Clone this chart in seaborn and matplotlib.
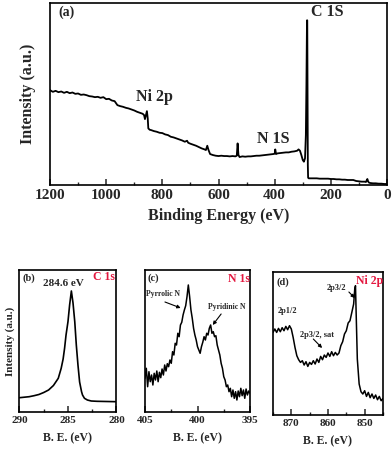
import numpy as np
import pandas as pd
import seaborn as sns
import matplotlib.pyplot as plt
from matplotlib.ticker import MultipleLocator

# (a) survey spectrum: binding energy (eV) and intensity (a.u.)
survey_be = [1200, 1190, 1180, 1170, 1160, 1150, 1140, 1130, 1120, 1110,
             1100, 1090, 1080, 1070, 1060, 1050, 1040, 1030, 1020, 1010,
             1000, 990, 980, 970, 960, 950, 940, 930, 920, 910,
             900, 890, 880, 870, 865, 862, 858, 855, 852, 850,
             845, 840, 830, 820, 810, 800, 790, 780, 770, 760,
             750, 740, 730, 720, 712, 708, 700, 690, 680, 670,
             660, 650, 645, 640, 636, 630, 620, 610, 600, 590,
             580, 570, 560, 550, 540, 535, 532, 529, 525, 515,
             505, 495, 485, 475, 465, 455, 445, 435, 425, 415,
             405, 400, 398, 395, 390, 380, 370, 360, 350, 340,
             330, 320, 315, 310, 305, 300, 296, 292, 289, 287,
             286, 285, 284, 283, 282, 281, 279, 270, 260, 250,
             240, 230, 220, 210, 200, 190, 180, 170, 160, 150,
             140, 130, 120, 110, 100, 90, 80, 75, 72, 70,
             67, 64, 60, 50, 40, 30, 20, 10, 0]
survey_int = [285, 280, 283, 279, 281, 277, 280, 276, 278, 274,
              275, 271, 272, 270, 267, 266, 264, 265, 262, 264,
              258, 259, 254, 252, 240, 237, 235, 232, 230, 227,
              224, 220, 217, 214, 210, 198, 212, 222, 200, 170,
              166, 165, 162, 160, 157, 156, 152, 150, 145, 143,
              140, 137, 134, 130, 133, 127, 124, 121, 118, 114,
              110, 107, 105, 118, 106, 93, 90, 88, 87, 88,
              87, 87, 86, 87, 86, 88, 125, 90, 84, 86,
              85, 86, 86, 87, 88, 88, 89, 90, 91, 92,
              93, 94, 107, 93, 95, 96, 97, 98, 98, 100,
              101, 103, 107, 103, 90, 75, 70, 80, 150, 300,
              420, 495, 495, 300, 60, 22, 20, 20, 20, 20,
              19, 19, 19, 19, 18, 18, 17, 17, 16, 16,
              15, 15, 15, 12, 11, 10, 10, 9, 15, 18,
              10, 7, 6, 5, 5, 4, 4, 3, 3]

# (b) C 1s
c1s_be = [290, 289.5, 289, 288.5, 288, 287.5, 287, 286.5, 286, 285.7,
          285.5, 285.35, 285.2, 285.0, 284.83, 284.65, 284.48, 284.3, 284.14, 283.97,
          283.8, 283.6, 283.5, 283.3, 283.0, 282.6, 282, 281, 280]
c1s_int = [14.3, 14.8, 15.3, 16.3, 17.5, 19.5, 22, 26.5, 33.7, 43.7,
           53, 63.7, 77, 90.3, 107, 121, 109, 90.3, 67, 47,
           30, 20.3, 17, 13.7, 12, 11, 10.7, 10.5, 10.3]

# (c) N 1s
n1s_be = [405.0, 404.875, 404.75, 404.625, 404.5, 404.375, 404.25, 404.125, 404.0,
          403.875, 403.75, 403.625, 403.5, 403.375, 403.25, 403.125, 403.0,
          402.875, 402.75, 402.625, 402.5, 402.375, 402.25, 402.125, 402.0,
          401.875, 401.75, 401.625, 401.5, 401.375, 401.25, 401.125, 401.0,
          400.875, 400.75, 400.625, 400.5, 400.375, 400.25, 400.125, 400.0,
          399.875, 399.75, 399.625, 399.5, 399.375, 399.25, 399.125, 399.0,
          398.875, 398.75, 398.625, 398.5, 398.375, 398.25, 398.125, 398.0,
          397.875, 397.75, 397.625, 397.5, 397.375, 397.25, 397.125, 397.0,
          396.875, 396.75, 396.625, 396.5, 396.375, 396.25, 396.125, 396.0,
          395.875, 395.75, 395.625, 395.5, 395.375, 395.25, 395.125, 395.0]
n1s_int = [33.7, 43.7, 25.3, 40.3, 30.3, 37, 27, 38.7, 32,
           41, 30.3, 39.7, 34.3, 43, 37, 47, 41,
           48.3, 45.3, 52, 48.7, 60.3, 57, 68.7, 67,
           78.7, 75.3, 87, 89.7, 97, 102, 106.3, 115.3,
           127, 115.3, 102, 93.7, 83.7, 77, 72, 65.3,
           62, 58.7, 65.3, 69.7, 75.3, 72, 78.7, 77,
           83.7, 87, 78.7, 80.3, 75.3, 76.3, 67, 62,
           57, 48.7, 43.7, 35.3, 32, 25.3, 27, 20.3,
           23.7, 15.3, 22, 13.7, 20.3, 12, 21, 15.3,
           23.7, 16.3, 22, 13.7, 23, 17, 21, 18.7]

# (d) Ni 2p
ni2p_be = [875.0, 874.5, 874.0, 873.5, 873.0, 872.5, 872.0, 871.5, 871.0, 870.5,
           870.0, 869.5, 869.0, 868.5, 868.0, 867.5, 867.0, 866.5, 866.0, 865.5,
           865.0, 864.5, 864.0, 863.5, 863.0, 862.5, 862.0, 861.5, 861.0, 860.5,
           860.0, 859.5, 859.0, 858.5, 858.0, 857.5, 857.0, 856.5, 856.0, 855.5,
           855.0, 854.5, 854.0, 853.5, 853.0, 852.7, 852.5, 852.3, 852.0, 851.5,
           851.0, 850.5, 850.0, 849.5, 849.0, 848.5, 848.0, 847.5, 847.0, 846.5,
           846.0, 845.5, 845.0]
ni2p_int = [82.6, 86, 82.6, 86.6, 83.3, 87.3, 84.3, 88.6, 85.3, 89.3,
            86, 77.6, 67.6, 59.3, 55.3, 52.6, 54.3, 50, 53.3, 48.6,
            52.6, 50.6, 54.3, 51, 56, 52.6, 58.6, 55.3, 60, 57.6,
            62, 58.6, 63.3, 59.3, 62.6, 60, 62, 69.3, 73.3, 81,
            84.3, 92, 94.3, 102.6, 111, 126, 129.3, 99.3, 56, 31,
            23.3, 21, 24.3, 18.6, 22.6, 17.3, 21, 16.6, 20, 15.3,
            18.6, 14.3, 16.6]

RED = '#e3173f'

sns.set_theme(style="ticks")
plt.rcParams['font.family'] = ['Liberation Serif', 'DejaVu Serif']
plt.rcParams['font.weight'] = 'bold'
plt.rcParams['axes.labelweight'] = 'bold'
plt.rcParams['axes.linewidth'] = 1.2
plt.rcParams['xtick.direction'] = 'in'
plt.rcParams['ytick.direction'] = 'in'

fig = plt.figure(figsize=(3.92, 4.49), dpi=100)
fig.patch.set_facecolor('white')

ARROW = dict(arrowstyle='-|>', color='black', lw=0.8, mutation_scale=5,
             shrinkA=0, shrinkB=0)


def style_axis(ax, major, minor, size):
    ax.xaxis.set_major_locator(MultipleLocator(major))
    ax.xaxis.set_minor_locator(MultipleLocator(minor))
    ax.tick_params(axis='x', which='major', length=4, width=1.1, labelsize=size, pad=3)
    ax.tick_params(axis='x', which='minor', length=2.5, width=1.0)
    ax.set_yticks([])
    ax.set_ylabel('')
    for s in ax.spines.values():
        s.set_visible(True)
        s.set_linewidth(1.2)
        s.set_color('black')


# panel (a)
ax_a = fig.add_axes([0.1276, 0.588, 0.8597, 0.4053])
df_a = pd.DataFrame({'BE': survey_be, 'I': survey_int})
sns.lineplot(data=df_a, x='BE', y='I', ax=ax_a, color='black', linewidth=1.3, sort=False)
ax_a.set_xlim(1200, 0)
ax_a.set_ylim(0, 547)
style_axis(ax_a, 200, 100, 11)
ax_a.set_xlabel('Binding Energy (eV)', fontsize=11.5, labelpad=4)
ax_a.set_ylabel('Intensity (a.u.)', fontsize=11.5, labelpad=10)
ax_a.text(0.025, 0.95, '(a)', transform=ax_a.transAxes, fontsize=10, va='center')
ax_a.text(0.775, 0.95, 'C 1S', transform=ax_a.transAxes, fontsize=11.5, va='center')
ax_a.text(0.255, 0.485, 'Ni 2p', transform=ax_a.transAxes, fontsize=11.5, va='center')
ax_a.text(0.615, 0.255, 'N 1S', transform=ax_a.transAxes, fontsize=11.5, va='center')

# panel (b)
ax_b = fig.add_axes([0.0497, 0.0824, 0.2474, 0.3163])
df_b = pd.DataFrame({'BE': c1s_be, 'I': c1s_int})
sns.lineplot(data=df_b, x='BE', y='I', ax=ax_b, color='black', linewidth=1.2, sort=False)
ax_b.set_xlim(290, 280)
ax_b.set_ylim(0, 142)
style_axis(ax_b, 5, 2.5, 8)
ax_b.set_xlabel('B. E. (eV)', fontsize=8.5, labelpad=5)
ax_b.set_ylabel('Intensity (a.u.)', fontsize=8, labelpad=3)
ax_b.text(0.03, 0.94, '(b)', transform=ax_b.transAxes, fontsize=7.5, va='center')
ax_b.text(0.24, 0.905, '284.6 eV', transform=ax_b.transAxes, fontsize=8, va='center')
ax_b.text(0.76, 0.95, 'C 1s', transform=ax_b.transAxes, fontsize=8.5, va='center', color=RED)

# panel (c)
ax_c = fig.add_axes([0.3699, 0.0824, 0.2679, 0.3163])
df_c = pd.DataFrame({'BE': n1s_be, 'I': n1s_int})
sns.lineplot(data=df_c, x='BE', y='I', ax=ax_c, color='black', linewidth=1.1, sort=False)
ax_c.set_xlim(405, 395)
ax_c.set_ylim(0, 142)
style_axis(ax_c, 5, 2.5, 8)
ax_c.set_xlabel('B. E. (eV)', fontsize=8.5, labelpad=5)
ax_c.text(0.02, 0.94, '(c)', transform=ax_c.transAxes, fontsize=7.5, va='center')
ax_c.text(0.79, 0.94, 'N 1s', transform=ax_c.transAxes, fontsize=8.5, va='center', color=RED)
ax_c.text(404.9, 118, 'Pyrrolic N', fontsize=5.5, va='center')
ax_c.annotate('', xy=(401.6, 104), xytext=(403.1, 110), arrowprops=ARROW)
ax_c.text(399.0, 105, 'Pyridinic N', fontsize=5.5, va='center')
ax_c.annotate('', xy=(398.55, 87), xytext=(397.75, 98), arrowprops=ARROW)

# panel (d)
ax_d = fig.add_axes([0.6964, 0.0757, 0.2806, 0.3185])
df_d = pd.DataFrame({'BE': ni2p_be, 'I': ni2p_int})
sns.lineplot(data=df_d, x='BE', y='I', ax=ax_d, color='black', linewidth=1.1, sort=False)
ax_d.set_xlim(875, 845)
ax_d.set_ylim(0, 143)
style_axis(ax_d, 10, 5, 8)
ax_d.set_xlabel('B. E. (eV)', fontsize=8.5, labelpad=5)
ax_d.text(0.03, 0.93, '(d)', transform=ax_d.transAxes, fontsize=7.5, va='center')
ax_d.text(0.755, 0.94, 'Ni 2p', transform=ax_d.transAxes, fontsize=8.5, va='center',
          color=RED, clip_on=False)
ax_d.text(0.04, 0.73, '2p1/2', transform=ax_d.transAxes, fontsize=6, va='center')
ax_d.text(860.3, 127, '2p3/2', fontsize=6, va='center')
ax_d.annotate('', xy=(852.7, 117), xytext=(854.3, 123), arrowprops=ARROW)
ax_d.text(867.6, 80, '2p3/2, sat', fontsize=6, va='center')
ax_d.annotate('', xy=(861.6, 67), xytext=(864.0, 76), arrowprops=ARROW)

fig.savefig('out.png', dpi=100, facecolor='white')
